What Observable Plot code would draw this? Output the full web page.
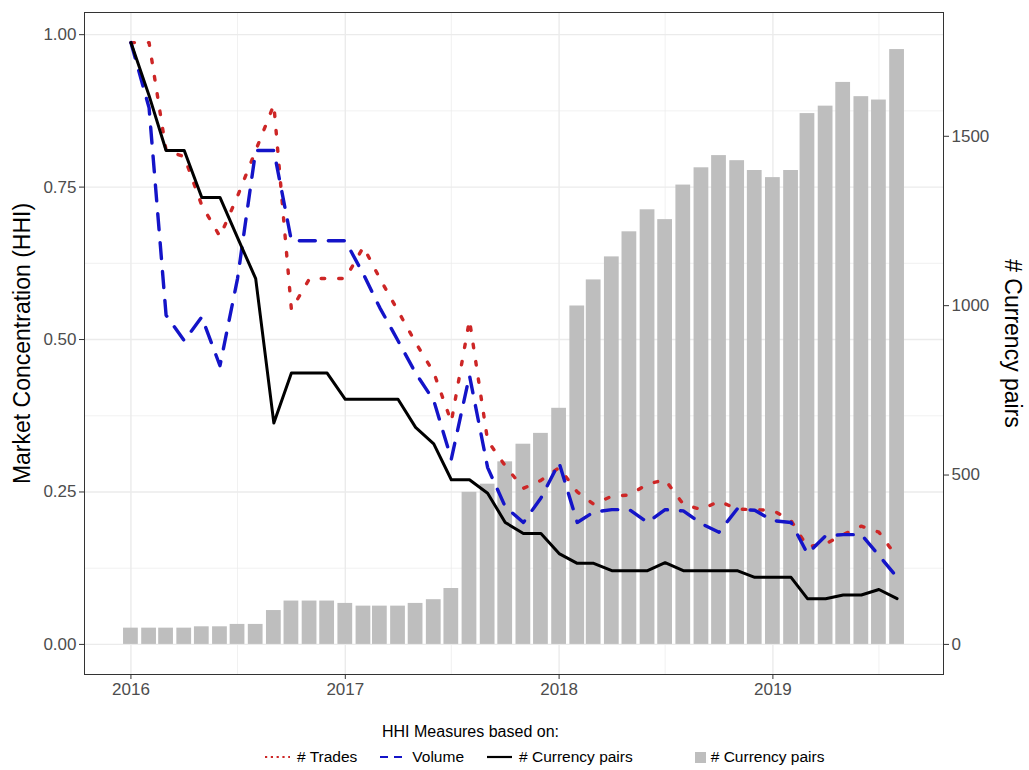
<!DOCTYPE html>
<html>
<head>
<meta charset="utf-8">
<script src="https://cdn.jsdelivr.net/npm/d3@7"></script>
<script src="https://cdn.jsdelivr.net/npm/@observablehq/plot@0.6"></script>
<style>
  body { margin: 0; background: #fff; font-family: "Liberation Sans", Arial, sans-serif; }
  #wrap { position: relative; width: 1029px; height: 770px; }
  #legend-title { position: absolute; left: 382px; top: 723px; font-size: 16px; line-height: 18px; color: #000; }
  #legend { position: absolute; left: 265px; top: 748px; height: 18px; display: flex; align-items: center; font-size: 15.5px; color: #000; }
  #legend .item { display: flex; align-items: center; }
  #legend svg { margin-right: 7px; }
  #legend .item + .item { margin-left: 23px; }
  #legend .item.fillkey { margin-left: 62px; }
  #legend .fillkey svg { margin-right: 5px; }
</style>
</head>
<body>
<div id="wrap">
  <div id="chart"></div>
  <div id="legend-title">HHI Measures based on:</div>
  <div id="legend"></div>
</div>
<script>
// monthly observations, Jan 2016 - Aug 2019
const months = d3.utcMonth.range(new Date(Date.UTC(2016, 0, 1)), new Date(Date.UTC(2019, 8, 1)));

// number of currency pairs (bars, right axis)
const pairCount = [48, 48, 48, 48, 52, 52, 59, 59, 100, 128, 128, 128,
  121, 113, 113, 113, 121, 132, 165, 449, 473, 539, 591, 623,
  697, 999, 1076, 1144, 1218, 1283, 1254, 1356, 1407, 1443, 1428, 1399,
  1378, 1399, 1567, 1589, 1659, 1617, 1607, 1756];

// HHI based on # trades (red dotted)
const hhiTrades = [0.987, 0.987, 0.81, 0.80, 0.72, 0.669, 0.735, 0.81, 0.885, 0.549, 0.60, 0.60,
  0.60, 0.652, 0.60, 0.547, 0.495, 0.446, 0.365, 0.532, 0.334, 0.293, 0.256, 0.269,
  0.29, 0.25, 0.23, 0.243, 0.245, 0.263, 0.27, 0.23, 0.221, 0.235, 0.222, 0.221,
  0.22, 0.203, 0.16, 0.165, 0.18, 0.194, 0.184, 0.143];

// HHI based on volume (blue dashed)
const hhiVolume = [0.987, 0.88, 0.54, 0.498, 0.537, 0.457, 0.60, 0.81, 0.81, 0.662, 0.662, 0.662,
  0.662, 0.607, 0.552, 0.498, 0.445, 0.40, 0.304, 0.441, 0.29, 0.226, 0.20, 0.24,
  0.298, 0.20, 0.217, 0.221, 0.221, 0.20, 0.221, 0.219, 0.198, 0.184, 0.222, 0.22,
  0.203, 0.20, 0.149, 0.178, 0.18, 0.18, 0.146, 0.11];

// HHI based on # currency pairs (black solid)
const hhiPairs = [0.987, 0.90, 0.81, 0.81, 0.733, 0.733, 0.667, 0.60, 0.363, 0.445, 0.445, 0.445,
  0.402, 0.402, 0.402, 0.402, 0.356, 0.329, 0.27, 0.27, 0.248, 0.20, 0.182, 0.182,
  0.149, 0.133, 0.133, 0.121, 0.121, 0.121, 0.134, 0.121, 0.121, 0.121, 0.121, 0.11,
  0.11, 0.11, 0.075, 0.075, 0.081, 0.081, 0.09, 0.075];

const yearTicks = [2016, 2017, 2018, 2019].map(y => new Date(Date.UTC(y, 0, 1)));
const midYears = [2016, 2017, 2018, 2019].map(y => new Date(Date.UTC(y, 6, 1)));
const hhiTicks = [0, 0.25, 0.5, 0.75, 1];
const hhiMinor = [0.125, 0.375, 0.625, 0.875];
const pairTicks = [0, 500, 1000, 1500];
const SEC = 1800; // secondary axis = HHI * 1800

const rows = months.map((date, i) => ({
  date, count: pairCount[i], trades: hhiTrades[i], volume: hhiVolume[i], pairs: hhiPairs[i]
}));

// ggplot-like expansion
const DAY = 864e5;
const halfBar = 12.6 * DAY;
const x0 = +months[0] - halfBar, x1 = +months[months.length - 1] + halfBar;
const xpad = (x1 - x0) * 0.05;
const ymax = d3.max([...hhiTrades, ...hhiVolume, ...hhiPairs, ...pairCount.map(c => c / SEC)]);
const ypad = ymax * 0.05;

const grid = "#EBEBEB";

const chart = Plot.plot({
  width: 1029,
  height: 705,
  marginLeft: 84,
  marginRight: 86,
  marginTop: 12,
  marginBottom: 31,
  style: { fontFamily: "Liberation Sans, Arial, sans-serif", fontSize: "17px", background: "#fff", color: "#000" },
  x: { type: "utc", domain: [new Date(x0 - xpad), new Date(x1 + xpad)] },
  y: { domain: [-ypad, ymax + ypad] },
  marks: [
    Plot.ruleX(midYears, { stroke: grid, strokeWidth: 0.7 }),
    Plot.ruleY(hhiMinor, { stroke: grid, strokeWidth: 0.7 }),
    Plot.ruleX(yearTicks, { stroke: grid, strokeWidth: 1.4 }),
    Plot.ruleY(hhiTicks, { stroke: grid, strokeWidth: 1.4 }),
    Plot.rectY(rows, {
      x1: d => new Date(+d.date - halfBar),
      x2: d => new Date(+d.date + halfBar),
      y: d => d.count / SEC,
      fill: "#BEBEBE"
    }),
    Plot.line(rows, { x: "date", y: "trades", stroke: "#CD2626", strokeWidth: 3.4, strokeDasharray: "3.5,14" }),
    Plot.line(rows, { x: "date", y: "volume", stroke: "#1414C8", strokeWidth: 3.4, strokeDasharray: "16,13" }),
    Plot.line(rows, { x: "date", y: "pairs", stroke: "#000", strokeWidth: 3 }),
    Plot.frame({ stroke: "#333", strokeWidth: 1 }),
    Plot.axisX({ ticks: yearTicks, tickFormat: d3.utcFormat("%Y"), tickSize: 5, tickPadding: 3, label: null, stroke: "#333", fill: "#4D4D4D" }),
    Plot.axisY({ anchor: "left", ticks: hhiTicks, tickFormat: d3.format(".2f"), tickSize: 5, tickPadding: 3, label: null, stroke: "#333", fill: "#4D4D4D" }),
    Plot.axisY({ anchor: "right", ticks: pairTicks.map(v => v / SEC), tickFormat: v => String(Math.round(v * SEC)), tickSize: 5, tickPadding: 3, label: null, stroke: "#333", fill: "#4D4D4D" }),
    Plot.text(["Market Concentration (HHI)"], { text: d => d, frameAnchor: "left", textAnchor: "middle", rotate: -90, dx: -62, fontSize: 23, fill: "#000" }),
    Plot.text(["# Currency pairs"], { text: d => d, frameAnchor: "right", textAnchor: "middle", rotate: 90, dx: 69, fontSize: 23, fill: "#000" })
  ]
});

d3.select("#chart").append(() => chart);

// legend
const legendItems = [
  { label: "# Trades", stroke: "#CD2626", dash: "2.2,3.6" },
  { label: "Volume", stroke: "#1414C8", dash: "8,6" },
  { label: "# Currency pairs", stroke: "#000", dash: null },
  { label: "# Currency pairs", fill: "#BEBEBE" }
];

const legend = d3.select("#legend");
legendItems.forEach(it => {
  const item = legend.append("div").attr("class", it.fill ? "item fillkey" : "item");
  if (it.fill) {
    const s = item.append("svg").attr("width", 11).attr("height", 11);
    s.append("rect").attr("width", 11).attr("height", 11).attr("fill", it.fill);
  } else {
    const s = item.append("svg").attr("width", 25).attr("height", 18);
    s.append("line").attr("x1", 0).attr("x2", 25).attr("y1", 9).attr("y2", 9)
      .attr("stroke", it.stroke).attr("stroke-width", 2.2)
      .attr("stroke-dasharray", it.dash);
  }
  item.append("span").text(it.label);
});
</script>
</body>
</html>
